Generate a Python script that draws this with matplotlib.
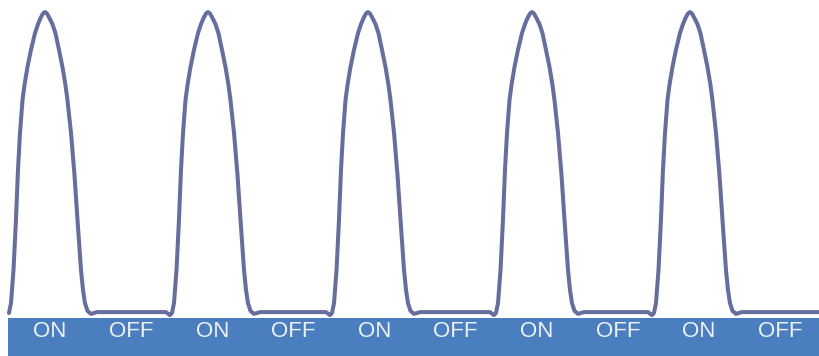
import numpy as np
import matplotlib
matplotlib.use('Agg')
import matplotlib.pyplot as plt
from matplotlib.patches import Rectangle

## estados da barra de baixo
states = ['ON', 'OFF', 'ON', 'OFF', 'ON', 'OFF', 'ON', 'OFF', 'ON', 'OFF']

## picos dos pulsos (em unidades de tempo, 1 = um rótulo)
peaks = [0.456, 2.466, 4.439, 6.461, 8.409]

## forma de um pulso, relativa ao pico
pulse_dt = [-0.518, -0.469, -0.444, -0.419, -0.407, -0.388, -0.358, -0.333,
            -0.308, -0.277, -0.253, -0.216, -0.173, -0.123, -0.086, -0.055,
            -0.025, 0.0, 0.025, 0.055, 0.092, 0.129, 0.173, 0.216, 0.253,
            0.277, 0.321, 0.364, 0.401, 0.444, 0.469, 0.493, 0.524, 0.567,
            0.641]
pulse_amp = [0.003, -0.007, 0.0, 0.033, 0.076, 0.143, 0.309, 0.475,
             0.598, 0.708, 0.757, 0.817, 0.874, 0.930, 0.960, 0.980,
             0.995, 1.0, 0.995, 0.980, 0.960, 0.930, 0.874, 0.817, 0.757,
             0.708, 0.598, 0.458, 0.309, 0.143, 0.076, 0.033, 0.007, -0.003,
             0.003]

t_end = 10
amp_end = 0.003

## montando a curva
t = []
amp = []
for p in peaks:
    for dt, a in zip(pulse_dt, pulse_amp):
        if p + dt >= 0:
            t.append(p + dt)
            amp.append(a)
t.append(t_end)
amp.append(amp_end)

fig = plt.figure(figsize=(8.19, 3.56), dpi=100)
ax = fig.add_axes([0, 0, 1, 1])
ax.set_xlim(-0.0986, 10)
ax.set_ylim(-0.1429, 1.04)
ax.axis('off')

## barra azul
ax.add_patch(Rectangle((0, -0.1429), 10, 0.1263, facecolor='#4a7ebf',
                       edgecolor='none', zorder=1))
for i, s in enumerate(states):
    ax.text(i + 0.52, -0.062, s, color='#eef2f9', fontsize=16,
            family='Liberation Sans', ha='center', va='center', zorder=3)

ax.plot(t, amp, color='#666e9e', lw=2.9, solid_joinstyle='round',
        solid_capstyle='round', zorder=2)

fig.savefig('out.png', dpi=100)
